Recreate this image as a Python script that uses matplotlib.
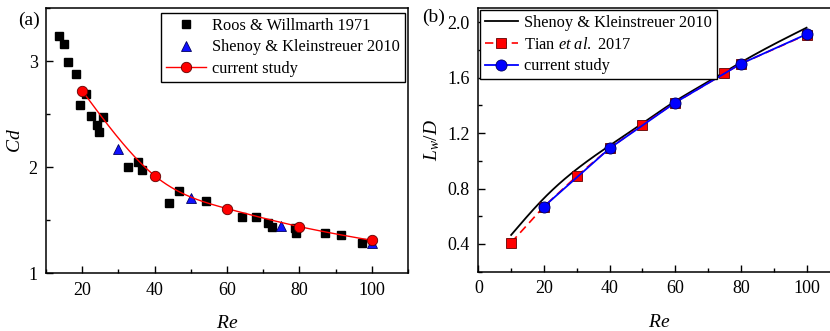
import numpy as np
import matplotlib
matplotlib.use('Agg')
import matplotlib.pyplot as plt
from matplotlib.ticker import MultipleLocator

plt.rcParams['font.family'] = ['Liberation Serif', 'DejaVu Serif']
plt.rcParams['mathtext.fontset'] = 'custom'
plt.rcParams['mathtext.rm'] = 'Liberation Serif'
plt.rcParams['mathtext.it'] = 'Liberation Serif:italic'

# ---- panel (a): drag coefficient ----
roos_re = [13.5, 15.1, 16.2, 18.2, 19.4, 21.0, 22.5, 25.7, 24.2, 24.7, 32.6, 35.5,
           36.4, 44.1, 46.8, 54.3, 64.1, 68.0, 71.4, 72.3, 78.8, 79.0, 87.0, 91.6, 97.4]
roos_cd = [3.24, 3.16, 2.99, 2.88, 2.59, 2.69, 2.48, 2.47, 2.40, 2.33, 2.00, 2.05,
           1.97, 1.66, 1.78, 1.68, 1.53, 1.53, 1.47, 1.44, 1.43, 1.38, 1.38, 1.36, 1.29]
shenoy_re_a = [30, 50, 75, 100]
shenoy_cd = [2.17, 1.71, 1.45, 1.29]
cur_re_a = [20, 40, 60, 80, 100]
cur_cd = [2.72, 1.92, 1.61, 1.44, 1.31]

# ---- panel (b): wake length ----
shenoy_re_b = [10, 20, 30, 40, 50, 60, 70, 80, 90, 100]
shenoy_lw = [0.465, 0.73, 0.94, 1.11, 1.27, 1.43, 1.57, 1.71, 1.84, 1.96]
tian_re = [10, 20, 30, 40, 50, 60, 75, 80, 100]
tian_lw = [0.41, 0.67, 0.89, 1.09, 1.26, 1.42, 1.63, 1.70, 1.91]
cur_re_b = [20, 40, 60, 80, 100]
cur_lw = [0.67, 1.09, 1.42, 1.70, 1.913]


def spline(x, y, n=200):
    # natural cubic spline through the points, for a smooth connecting line
    x = np.asarray(x, float)
    y = np.asarray(y, float)
    k = len(x)
    h = np.diff(x)
    A = np.zeros((k, k))
    b = np.zeros(k)
    A[0, 0] = A[-1, -1] = 1
    for i in range(1, k - 1):
        A[i, i - 1] = h[i - 1]
        A[i, i] = 2 * (h[i - 1] + h[i])
        A[i, i + 1] = h[i]
        b[i] = 6 * ((y[i + 1] - y[i]) / h[i] - (y[i] - y[i - 1]) / h[i - 1])
    m = np.linalg.solve(A, b)
    xs = np.linspace(x[0], x[-1], n)
    idx = np.clip(np.searchsorted(x, xs) - 1, 0, k - 2)
    t0 = xs - x[idx]
    t1 = x[idx + 1] - xs
    hh = h[idx]
    ys = (m[idx] * t1**3 + m[idx + 1] * t0**3) / (6 * hh) \
        + (y[idx] / hh - m[idx] * hh / 6) * t1 \
        + (y[idx + 1] / hh - m[idx + 1] * hh / 6) * t0
    return xs, ys


fig = plt.figure(figsize=(8.3, 3.31), dpi=100)
ax1 = fig.add_axes([0.0554, 0.1743, 0.4362, 0.8015])
ax2 = fig.add_axes([0.5763, 0.1792, 0.4350, 0.7957])

for ax in (ax1, ax2):
    ax.tick_params(which='both', direction='in', top=False, right=False,
                   labelsize=13, width=1, pad=6)
    ax.tick_params(which='major', length=5)
    ax.tick_params(which='minor', length=3)
    for s in ax.spines.values():
        s.set_linewidth(1.1)

# (a)
ax1.plot(roos_re, roos_cd, 's', color='black', ms=6, ls='none',
         label='Roos & Willmarth 1971')
ax1.plot(shenoy_re_a, shenoy_cd, '^', color='#1010ff', mec='#000060', mew=0.6,
         ms=7.5, ls='none', label='Shenoy & Kleinstreuer 2010')
xs, ys = spline(cur_re_a, cur_cd)
ax1.plot(xs, ys, color='red', lw=1)
ax1.plot(cur_re_a, cur_cd, 'o', color='red', mec='#600000', mew=0.6, ms=7.5, ls='none')
ax1.plot([], [], '-o', color='red', mfc='red', mec='#600000', mew=0.6, ms=7.5, lw=1,
         label='current study')
ax1.set_xlim(10, 110)
ax1.set_ylim(1, 3.5)
ax1.xaxis.set_major_locator(MultipleLocator(20))
ax1.xaxis.set_minor_locator(MultipleLocator(10))
ax1.yaxis.set_major_locator(MultipleLocator(1))
ax1.yaxis.set_minor_locator(MultipleLocator(0.5))
ax1.set_xlabel('$Re$', fontsize=14, labelpad=12)
ax1.set_ylabel('$Cd$', fontsize=14, labelpad=3)
leg1 = ax1.legend(loc='upper right', bbox_to_anchor=(0.9917, 0.9823), borderaxespad=0,
                  fontsize=11.8, fancybox=False, edgecolor='black', framealpha=1,
                  handlelength=2.4, handletextpad=0.4, borderpad=0.3, labelspacing=0.35)
leg1.get_frame().set_linewidth(1)

# (b)
xs, ys = spline(shenoy_re_b, shenoy_lw)
ax2.plot(xs, ys, color='black', lw=1.3, label='Shenoy & Kleinstreuer 2010')
ax2.plot(tian_re, tian_lw, '--s', color='red', mec='#600000', mew=0.6, ms=6.5, lw=1.2,
         dashes=(5, 3), label='Tian $\\it{et\\ al.}$ 2017')
ax2.plot(cur_re_b, cur_lw, '-o', color='#0000ff', mec='#000060', mew=0.6, ms=8, lw=1.3,
         label='current study')
ax2.set_xlim(0, 110)
ax2.set_ylim(0.2, 2.1)
ax2.xaxis.set_major_locator(MultipleLocator(20))
ax2.xaxis.set_minor_locator(MultipleLocator(10))
ax2.yaxis.set_major_locator(MultipleLocator(0.4))
ax2.yaxis.set_minor_locator(MultipleLocator(0.2))
ax2.yaxis.set_major_formatter(matplotlib.ticker.FormatStrFormatter('%.1f'))
ax2.set_xlabel('$Re$', fontsize=14, labelpad=12)
ax2.set_ylabel('$L_w/D$', fontsize=14, labelpad=4)
leg2 = ax2.legend(loc='upper left', bbox_to_anchor=(0.0047, 0.9935), borderaxespad=0,
                  fontsize=11.8, fancybox=False, edgecolor='black', framealpha=1,
                  handlelength=2.0, handletextpad=0.4, borderpad=0.3, labelspacing=0.35)
leg2.get_frame().set_linewidth(1)

fig.text(0.022, 0.94, '(a)', fontsize=14, va='center', ha='left')
fig.text(0.509, 0.949, '(b)', fontsize=14, va='center', ha='left')

fig.savefig('out.png', dpi=100, facecolor='white')
